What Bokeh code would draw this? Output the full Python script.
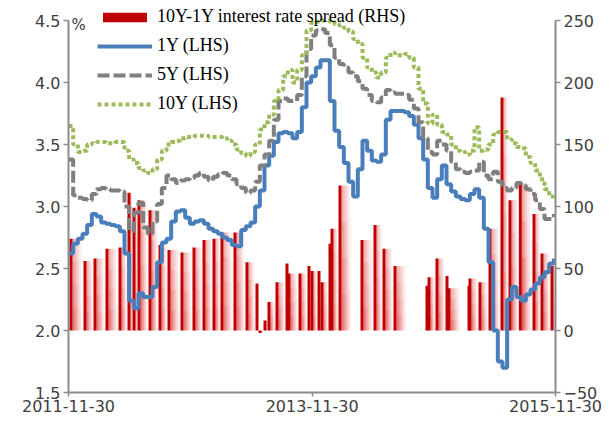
import pandas as pd
from bokeh.plotting import figure
from bokeh.models import (Range1d, LinearAxis, FixedTicker, DatetimeTickFormatter,
                          NumeralTickFormatter, Legend, LegendItem, ColumnDataSource, Label)
from bokeh.embed import file_html
from bokeh.resources import INLINE

# ---------------- data ----------------
start = pd.Timestamp("2011-11-30")
end = pd.Timestamp("2015-11-30")
dates = pd.date_range(start, periods=105, freq="14D")

y1 = [2.62, 2.70, 2.74, 2.78, 2.85, 2.94, 2.92, 2.87, 2.86, 2.85,
      2.84, 2.80, 2.62, 2.24, 2.18, 2.30, 2.27, 2.27, 2.35, 2.55,
      2.71, 2.74, 2.88, 2.96, 2.97, 2.91, 2.86, 2.88, 2.89, 2.86,
      2.82, 2.80, 2.78, 2.75, 2.73, 2.69, 2.68, 2.81, 2.84, 2.87,
      3.00, 3.13, 3.33, 3.41, 3.52, 3.59, 3.60, 3.59, 3.55, 3.60,
      3.80, 4.00, 4.05, 4.12, 4.18, 4.18, 3.85, 3.61, 3.48, 3.35,
      3.20, 3.08, 3.30, 3.53, 3.45, 3.37, 3.36, 3.42, 3.70, 3.77,
      3.77, 3.77, 3.76, 3.73, 3.66, 3.55, 3.38, 3.15, 3.07, 3.22,
      3.33, 3.18, 3.12, 3.08, 3.06, 3.05, 3.10, 3.14, 3.07, 2.82,
      2.55, 2.00, 1.75, 1.70, 2.25, 2.35, 2.27, 2.24, 2.29, 2.33,
      2.38, 2.43, 2.47, 2.54, 2.58]

y5 = [3.38, 3.09, 3.07, 3.06, 3.05, 3.10, 3.14, 3.15, 3.14, 3.13,
      3.13, 3.12, 3.00, 2.80, 2.95, 3.03, 2.83, 2.78, 2.88, 3.02,
      3.15, 3.25, 3.22, 3.19, 3.21, 3.22, 3.23, 3.25, 3.27, 3.24,
      3.21, 3.24, 3.26, 3.27, 3.25, 3.22, 3.18, 3.15, 3.11, 3.13,
      3.20, 3.33, 3.42, 3.53, 3.70, 3.85, 3.87, 3.85, 3.85, 3.90,
      4.05, 4.27, 4.38, 4.42, 4.43, 4.40, 4.30, 4.20, 4.15, 4.12,
      4.08, 4.05, 4.01, 3.95, 3.90, 3.85, 3.84, 3.88, 3.94, 3.92,
      3.91, 3.91, 3.90, 3.86, 3.79, 3.68, 3.55, 3.44, 3.42, 3.53,
      3.50, 3.45, 3.36, 3.30, 3.28, 3.27, 3.28, 3.29, 3.36, 3.25,
      3.22, 3.28, 3.20, 3.15, 3.13, 3.15, 3.19, 3.17, 3.14, 3.10,
      3.05, 2.98, 2.90, 2.90, 2.94]

y10 = [3.65, 3.50, 3.44, 3.45, 3.50, 3.51, 3.52, 3.52, 3.51, 3.51,
       3.52, 3.52, 3.45, 3.38, 3.35, 3.31, 3.29, 3.27, 3.30, 3.38,
       3.45, 3.50, 3.52, 3.53, 3.55, 3.56, 3.56, 3.57, 3.57, 3.57,
       3.56, 3.56, 3.56, 3.55, 3.53, 3.50, 3.46, 3.43, 3.41, 3.44,
       3.50, 3.62, 3.68, 3.74, 3.85, 3.94, 4.05, 4.10, 4.00, 4.10,
       4.22, 4.42, 4.48, 4.49, 4.50, 4.50, 4.49, 4.47, 4.46, 4.44,
       4.41, 4.35, 4.31, 4.20, 4.12, 4.08, 4.04, 4.08, 4.20, 4.24,
       4.22, 4.22, 4.23, 4.20, 4.12, 3.95, 3.83, 3.67, 3.74, 3.66,
       3.60, 3.58, 3.50, 3.45, 3.44, 3.42, 3.45, 3.64, 3.45, 3.46,
       3.50, 3.58, 3.60, 3.60, 3.54, 3.51, 3.48, 3.47, 3.40, 3.35,
       3.29, 3.22, 3.14, 3.08, 3.10]

spread_dates = ["2011-12-03", "2012-01-14", "2012-02-13", "2012-03-20", "2012-04-28",
                "2012-05-25", "2012-06-09", "2012-06-24", "2012-07-27", "2012-08-26",
                "2012-09-22", "2012-10-31", "2012-12-06", "2013-01-05", "2013-02-04",
                "2013-02-28", "2013-04-08", "2013-05-14", "2013-06-13", "2013-06-22",
                "2013-07-07", "2013-07-19", "2013-08-12", "2013-09-11", "2013-09-17",
                "2013-10-20", "2013-11-16", "2013-11-25", "2013-12-16", "2013-12-25",
                "2014-01-18", "2014-01-24", "2014-02-17", "2014-04-24", "2014-06-02",
                "2014-06-29", "2014-08-01", "2014-11-05", "2014-11-11", "2014-12-05",
                "2015-01-04", "2015-01-10", "2015-03-11", "2015-03-14", "2015-04-13",
                "2015-05-13", "2015-06-18", "2015-07-12", "2015-08-12", "2015-09-22",
                "2015-10-16", "2015-11-15"]
spread_vals = [74, 56, 58, 66, 67,
               111, 99, 105, 97, 69,
               65, 63, 67, 73, 74,
               79, 79, 55, 38, -2,
               8, 23, 39, 54, 46,
               46, 52, 48, 48, 39,
               70, 82, 117, 73, 85,
               66, 52, 36, 43, 58,
               44, 34, 36, 42, 39,
               82, 188, 105, 118, 94,
               62, 52]

left_ticks = [1.5, 2.0, 2.5, 3.0, 3.5, 4.0, 4.5]
right_ticks = [-50, 0, 50, 100, 150, 200, 250]
x_ticks = ["2011-11-30", "2013-11-30", "2015-11-30"]

# ---------------- derived sources (fading bars) ----------------
sd = [pd.Timestamp(d) for d in spread_dates]
day = pd.Timedelta(days=1)
line_w = 9 * day
spike = ColumnDataSource(dict(left=sd, right=[d + line_w for d in sd],
                              top=spread_vals, bottom=[0] * len(sd)))
K, J = 10, 4
gl, gr, gt, gb, ga = [], [], [], [], []
for i, d in enumerate(sd):
    nxt = sd[i + 1] if i + 1 < len(sd) else end
    gap = nxt - d - line_w
    if gap <= pd.Timedelta(0):
        continue
    length = min(gap, 32 * day)
    v = spread_vals[i]
    for k in range(K):
        for j in range(J):
            gl.append(d + line_w + length * k / K)
            gr.append(d + line_w + length * (k + 1) / K)
            gb.append(v * j / J)
            gt.append(v * (j + 1) / J)
            ga.append(0.8 * (1 - k / K) ** 1.6 * (1 - 0.45 * j / (J - 1)))
grad = ColumnDataSource(dict(left=gl, right=gr, top=gt, bottom=gb, alpha=ga))

# ---------------- figure ----------------
# left axis 1.5..4.5 ; right axis -50..250 (aligned: right = 100*(left-2))
p = figure(width=603, height=417, x_axis_type="datetime",
           x_range=Range1d(start, end), y_range=Range1d(1.5, 4.621),
           output_backend="svg", toolbar_location=None,
           min_border_left=68, min_border_right=48, min_border_top=5, min_border_bottom=25)
p.extra_y_ranges = {"spread": Range1d(-50, 262.1)}
p.xgrid.visible = False
p.ygrid.visible = False
p.outline_line_color = None
p.background_fill_color = "white"
p.border_fill_color = "white"

p.quad(left="left", right="right", top="top", bottom="bottom", source=grad,
       y_range_name="spread", fill_color="#dc1f1f", fill_alpha="alpha", line_color=None)
r_spike = p.quad(left="left", right="right", top="top", bottom="bottom", source=spike,
                 y_range_name="spread", fill_color="#c00000", line_color=None)

r1 = p.step(dates, y1, mode="after", line_color="#4a7ebb", line_width=4)
r5 = p.step(dates, y5, mode="after", line_color="#7f7f7f", line_width=4, line_dash="12 4")
r10 = p.step(dates, y10, mode="after", line_color="#9bbb59", line_width=4, line_dash="4 3")

axis_color = "#8c8c8c"
label_color = "#404040"

ya = p.yaxis[0]
ya.ticker = FixedTicker(ticks=left_ticks)
ya.formatter = NumeralTickFormatter(format="0.0")
ya.bounds = (1.5, 4.5)

ra = LinearAxis(y_range_name="spread", ticker=FixedTicker(ticks=right_ticks), bounds=(-50, 250))
p.add_layout(ra, "right")

xa = p.xaxis[0]
xa.ticker = FixedTicker(ticks=[pd.Timestamp(t).value / 1e6 for t in x_ticks])
fmt = "%Y-%m-%d"
xa.formatter = DatetimeTickFormatter(milliseconds=fmt, seconds=fmt, minsec=fmt, minutes=fmt,
                                     hourmin=fmt, hours=fmt, days=fmt, months=fmt, years=fmt)

for ax in (ya, ra, xa):
    ax.axis_line_color = axis_color
    ax.axis_line_width = 2
    ax.major_tick_line_color = axis_color
    ax.major_tick_line_width = 1.5
    ax.major_tick_in = 0
    ax.major_tick_out = 5
    ax.minor_tick_line_color = None
    ax.major_label_text_font = "DejaVu Sans"
    ax.major_label_text_font_size = "16px"
    ax.major_label_text_color = label_color
    ax.major_label_standoff = 3
xa.major_label_standoff = 3
xa.major_tick_out = 4

p.add_layout(Label(x=start.value / 1e6, y=4.5, x_offset=3, y_offset=-4, text="%",
                   text_baseline="middle", text_font="DejaVu Sans",
                   text_font_size="15px", text_color=label_color))

legend = Legend(items=[
    LegendItem(label="10Y-1Y interest rate spread (RHS)", renderers=[r_spike]),
    LegendItem(label="1Y (LHS)", renderers=[r1]),
    LegendItem(label="5Y (LHS)", renderers=[r5]),
    LegendItem(label="10Y (LHS)", renderers=[r10]),
], location=(29, 278))
legend.glyph_width = 55
legend.glyph_height = 12
legend.label_height = 21
legend.spacing = 8
legend.padding = 0
legend.margin = 0
legend.label_standoff = 5
legend.label_text_font = "Liberation Serif"
legend.label_text_font_size = "18px"
legend.label_text_color = "#000000"
legend.border_line_color = None
legend.background_fill_alpha = 0
p.add_layout(legend, "center")

open("out.html", "w").write(file_html(p, INLINE))
